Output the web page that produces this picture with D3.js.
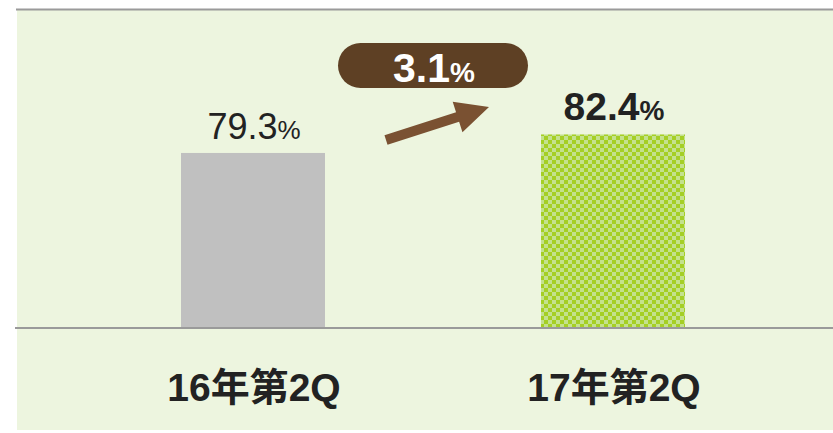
<!DOCTYPE html>
<html>
<head>
<meta charset="utf-8">
<script src="https://cdn.jsdelivr.net/npm/d3@7"></script>
<style>
  body { margin: 0; background: #fff; }
  svg { display: block; }
</style>
</head>
<body>
<div id="chart"></div>
<script>
// data
var categories = ["16年第2Q", "17年第2Q"];
var values = [79.3, 82.4];
var valueLabels = ["79.3", "82.4"];
var diffLabel = "3.1";

var W = 833, H = 433;
var svg = d3.select("#chart").append("svg")
    .attr("width", W).attr("height", H);

var defs = svg.append("defs");
var pat = defs.append("pattern")
    .attr("id", "checker")
    .attr("patternUnits", "userSpaceOnUse")
    .attr("width", 8).attr("height", 8);
pat.append("rect").attr("width", 8).attr("height", 8).attr("fill", "#c4e18e");
pat.append("rect").attr("width", 4).attr("height", 4).attr("fill", "#a5cf25");
pat.append("rect").attr("x", 4).attr("y", 4).attr("width", 4).attr("height", 4).attr("fill", "#a5cf25");

// panel
svg.append("rect")
    .attr("x", 17).attr("y", 10)
    .attr("width", W - 17).attr("height", 420)
    .attr("fill", "#edf5df");

var x = d3.scaleBand()
    .domain(categories)
    .range([73, 793])
    .paddingInner(0.6)
    .paddingOuter(0.3);

var y = d3.scaleLinear()
    .domain([50, 103.4])
    .range([328, 9]);

var font = "'Liberation Sans', Arial, 'Noto Sans CJK JP', sans-serif";

// bars
svg.selectAll("rect.bar")
    .data(values)
    .enter()
    .append("rect")
    .attr("class", "bar")
    .attr("x", function(d, i) { return x(categories[i]); })
    .attr("y", function(d) { return y(d); })
    .attr("width", x.bandwidth())
    .attr("height", function(d) { return y(50) - y(d); })
    .attr("fill", function(d, i) { return i == 0 ? "#c0c0c0" : "url(#checker)"; });

// lines
svg.append("line")
    .attr("x1", 16).attr("x2", W).attr("y1", 9.5).attr("y2", 9.5)
    .attr("stroke", "#9a9a9a").attr("stroke-width", 2);
svg.append("line")
    .attr("x1", 15).attr("x2", W).attr("y1", y(50)).attr("y2", y(50))
    .attr("stroke", "#9a9a9a").attr("stroke-width", 2);

// value labels
var vl = svg.selectAll("text.val")
    .data(values)
    .enter()
    .append("text")
    .attr("class", "val")
    .attr("x", function(d, i) { return x(categories[i]) + x.bandwidth() / 2 + 1; })
    .attr("y", function(d) { return y(d) - 14; })
    .attr("text-anchor", "middle")
    .attr("font-family", font)
    .attr("fill", "#222")
    .attr("font-weight", function(d, i) { return i == 0 ? "normal" : "bold"; });
vl.append("tspan")
    .attr("font-size", function(d, i) { return i == 0 ? 36 : 39; })
    .text(function(d, i) { return valueLabels[i]; });
vl.append("tspan")
    .attr("font-size", function(d, i) { return i == 0 ? 26 : 28; })
    .text("%");

// category labels
svg.selectAll("text.cat")
    .data(categories)
    .enter()
    .append("text")
    .attr("class", "cat")
    .attr("x", function(d) { return x(d) + x.bandwidth() / 2 + 1; })
    .attr("y", 401)
    .attr("text-anchor", "middle")
    .attr("font-family", font)
    .attr("font-weight", "bold")
    .attr("font-size", 39)
    .attr("fill", "#222")
    .text(function(d) { return d; });

// difference pill
var pillX = (x(categories[0]) + x(categories[1]) + x.bandwidth()) / 2;
svg.append("rect")
    .attr("x", pillX - 95).attr("y", 43)
    .attr("width", 190).attr("height", 45)
    .attr("rx", 22.5)
    .attr("fill", "#5e4024");
var pt = svg.append("text")
    .attr("x", pillX + 1)
    .attr("y", 82)
    .attr("text-anchor", "middle")
    .attr("font-family", font)
    .attr("font-weight", "bold")
    .attr("fill", "#fff");
pt.append("tspan").attr("font-size", 41).text(diffLabel);
pt.append("tspan").attr("font-size", 28).text("%");

// arrow
var a0 = [386, 140], a1 = [489, 107];
var dx = a1[0] - a0[0], dy = a1[1] - a0[1];
var len = Math.sqrt(dx * dx + dy * dy);
var ux = dx / len, uy = dy / len, nx = -uy, ny = ux;
var sw = 5, hw = 16, hl = 33;
function p(t, s) { return [a0[0] + ux * t + nx * s, a0[1] + uy * t + ny * s]; }
var pts = [p(0, -sw), p(len - hl, -sw), p(len - hl, -hw), p(len, 0),
           p(len - hl, hw), p(len - hl, sw), p(0, sw)];
svg.append("polygon")
    .attr("points", pts.map(function(q) { return q.join(","); }).join(" "))
    .attr("fill", "#7a5132");
</script>
</body>
</html>
